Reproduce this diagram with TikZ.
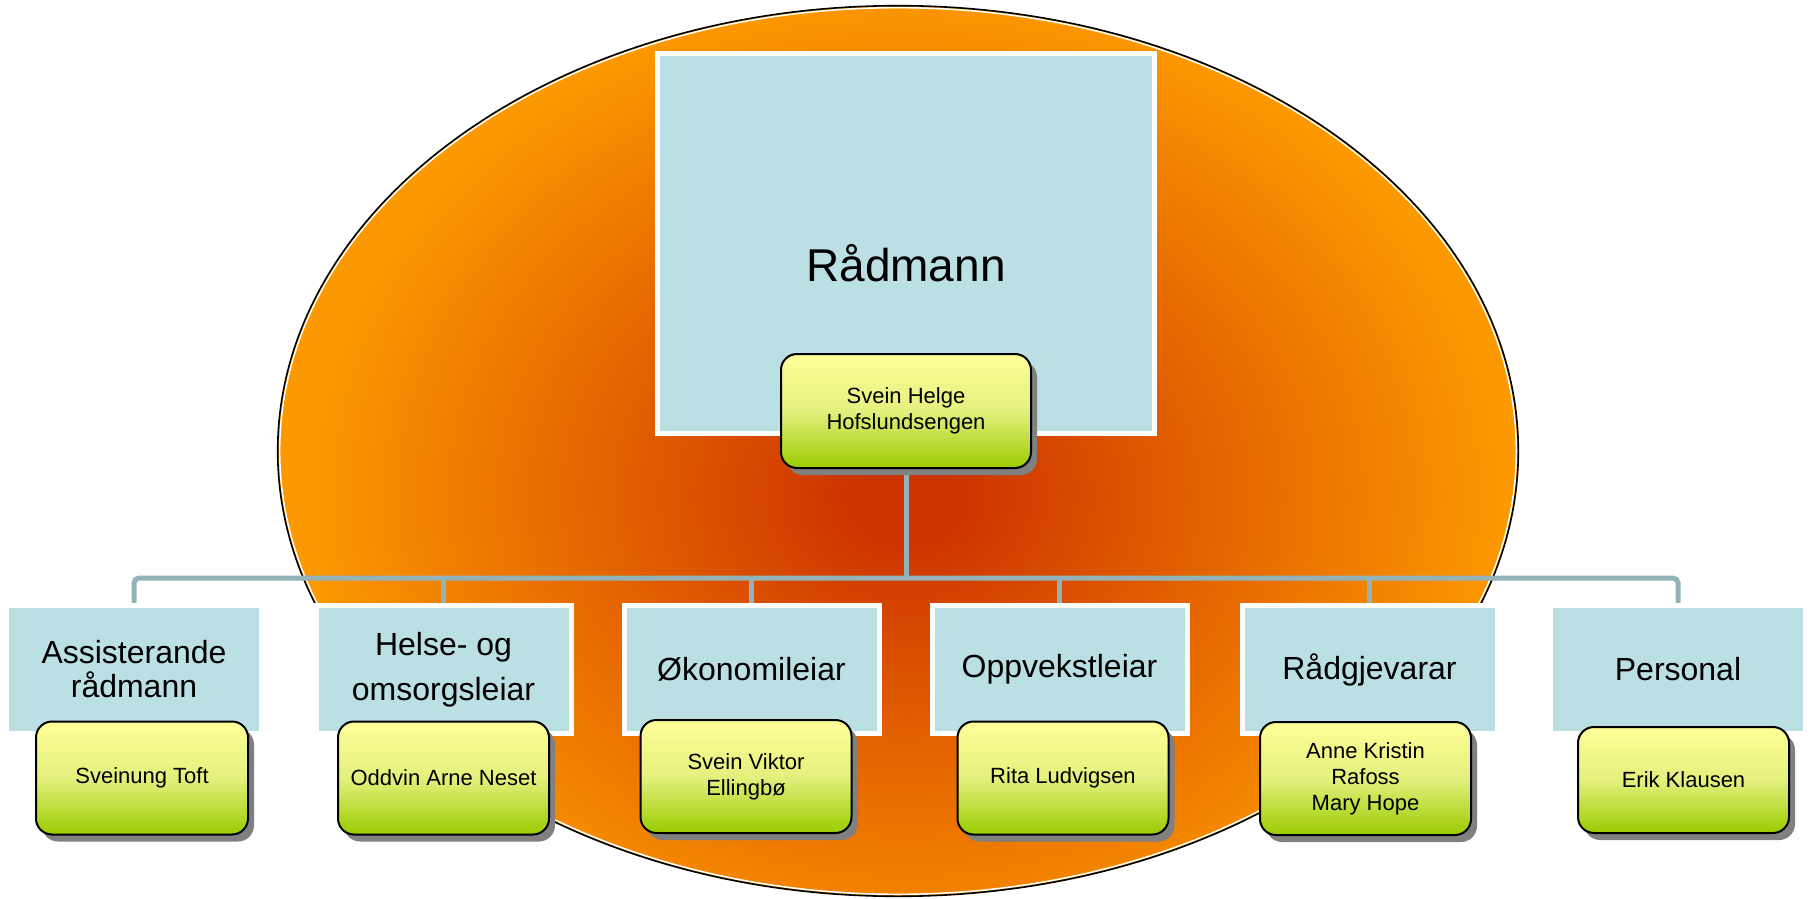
\documentclass[tikz,border=0pt]{standalone}
\usepackage{fontspec}
\setmainfont{Liberation Sans}
\usetikzlibrary{shadows}
\definecolor{roleblue}{RGB}{187,224,227}
\definecolor{conncol}{RGB}{148,179,184}
\definecolor{ytop}{RGB}{255,255,153}
\definecolor{ymid}{RGB}{228,240,125}
\definecolor{ybot}{RGB}{153,204,0}
\definecolor{shadowgray}{RGB}{128,128,128}
\definecolor{ecore}{RGB}{204,51,0}
\definecolor{emid}{RGB}{226,96,0}
\definecolor{eorange}{RGB}{252,152,0}
\pgfdeclareradialshading{ellshade}{\pgfpoint{0bp}{0bp}}{color(0bp)=(ecore); color(2bp)=(ecore); color(12bp)=(emid); color(25bp)=(eorange); color(50bp)=(eorange)}
\pgfdeclarelayer{ellayer}
\pgfdeclarelayer{connlayer}
\pgfsetlayers{ellayer,connlayer,main}
\begin{document}
\begin{tikzpicture}[x=1pt,y=-1pt,
  rolebox/.style={fill=roleblue, draw=white, line width=5pt, minimum width=255pt, minimum height=128pt, inner sep=0pt, align=center, font=\fontsize{32}{34}\selectfont},
  person/.style={draw=black, line width=2pt, rounded corners=16pt, top color=ytop, bottom color=ybot, middle color=ymid, minimum width=211pt, minimum height=113pt, inner sep=0pt, align=center, font=\fontsize{22}{26}\selectfont, drop shadow={shadow xshift=6pt, shadow yshift=-7pt, fill=shadowgray, opacity=1}},
  conn/.style={draw=conncol, line width=5pt}
]
\useasboundingbox (0,0) rectangle (1810,899);

% background ellipse
\begin{pgfonlayer}{ellayer}
\fill[eorange] (898,451) ellipse [x radius=620, y radius=445];
\begin{scope}
\clip (898,451) ellipse [x radius=620, y radius=445];
\shade[shading=ellshade] (906,495) ellipse [x radius=600, y radius=500];
\end{scope}
\draw[white, line width=1.5pt] (898,451) ellipse [x radius=618.3, y radius=443.3];
\draw[black, line width=1.6pt] (898,451) ellipse [x radius=620.3, y radius=445.3];
\end{pgfonlayer}

% top
\node[rolebox, minimum width=497pt, minimum height=380pt,
  label={[font=\fontsize{46}{52}\selectfont, yshift=-19.5pt]center:Rådmann}] (top) at (906,243.5) {};
\node[person, minimum width=250pt, minimum height=114pt] (topp) at (906,411) {Svein Helge\\Hofslundsengen};

% roles
\node[rolebox] (c1) at (134,669.5) {Assisterande\\rådmann};
\node[rolebox, font=\fontsize{32}{45}\selectfont] (c2) at (443.5,669.5) {Helse- og\\omsorgsleiar};
\node[rolebox] (c3) at (751.5,669.5) {Økonomileiar};
\node[rolebox] (c4) at (1059.5,669.5) {Oppvekstleiar};
\node[rolebox] (c5) at (1369.5,669.5) {Rådgjevarar};
\node[rolebox] (c6) at (1678,669.5) {Personal};

% persons
\node[person, minimum width=212pt] (p1) at (142,778) {Sveinung Toft};
\node[person] (p2) at (443.5,778) {Oddvin Arne Neset};
\node[person] (p3) at (746,776.5) {Svein Viktor\\Ellingbø};
\node[person] (p4) at (1063,778) {Rita Ludvigsen};
\node[person] (p5) at (1365.5,778.5) {Anne Kristin\\Rafoss\\Mary Hope};
\node[person, minimum height=106pt] (p6) at (1683.5,780) {Erik Klausen};

% connectors
\begin{pgfonlayer}{connlayer}
\coordinate (bar) at (906,578);
\draw[conn, rounded corners=5pt] (c1.north) |- (bar) -| (c6.north);
\draw[conn] (topp.south) -- (bar);
\foreach \i in {2,...,5} \draw[conn] (c\i.north) -- (c\i.north |- bar);
\end{pgfonlayer}
\end{tikzpicture}
\end{document}
